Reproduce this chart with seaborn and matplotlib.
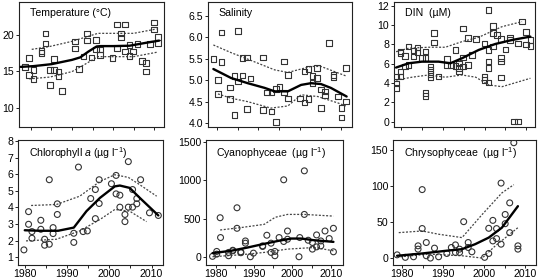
import numpy as np
import pandas as pd
import matplotlib
matplotlib.use("Agg")
import matplotlib.pyplot as plt
import seaborn as sns

# ---------------- data ----------------
# Temperature (°C)
temp_year = [1978.5, 1979.5, 1979.6, 1980.6, 1980.6, 1982.6, 1982.6, 1983.6, 1983.6, 1984.6, 1984.6,
             1985.6, 1985.6, 1986.7, 1986.7, 1987.6, 1990.7, 1990.7, 1991.7, 1992.8, 1993.7, 1993.7,
             1994.8, 1995.9, 1995.9, 1996.8, 1996.8, 1999.9, 2000.9, 2000.9, 2001.9, 2001.9, 2002.9,
             2002.9, 2004.0, 2004.0, 2004.9, 2005.9, 2007.0, 2008.0, 2008.0, 2009.0, 2010.0, 2010.0,
             2011.0, 2011.0]
temp_val = [15.6, 16.8, 14.5, 15.2, 13.95, 17.5, 17.8, 20.2, 18.8, 13.1, 15.2,
            16.7, 15.2, 14.95, 14.3, 12.3, 19.1, 18.1, 15.3, 17.0, 20.2, 19.2,
            16.9, 19.3, 18.0, 18.0, 17.25, 16.8, 21.4, 18.1, 20.2, 19.6, 21.4,
            17.7, 18.6, 17.1, 17.7, 18.7, 16.4, 16.1, 14.95, 18.7, 21.7, 20.7,
            19.7, 18.9]
temp_fit_year = [1977.5, 1980.6, 1985.0, 1990.0, 1992.0, 1994.0, 1996.0, 1997.0, 2000.0, 2004.0, 2008.0, 2011.2]
temp_fit = [15.6, 15.7, 15.97, 16.56, 16.9, 17.7, 18.4, 18.45, 18.45, 18.5, 18.9, 19.2]
temp_up_year = [1980.2, 1984.6, 1990.0, 1996.3, 2005.0, 2010.6]
temp_up = [18.0, 18.4, 19.1, 20.2, 20.2, 20.8]
temp_lo_year = [1979.6, 1984.6, 1990.0, 1993.0, 1996.3, 2005.0, 2010.6]
temp_lo = [13.95, 14.2, 14.95, 15.9, 17.0, 17.0, 17.6]

# Salinity
sal_year = [1979.1, 1980.2, 1980.2, 1981.1, 1981.1, 1983.1, 1983.1, 1984.2, 1984.2, 1985.1, 1985.1,
            1986.1, 1986.1, 1987.2, 1987.2, 1988.1, 1991.1, 1991.1, 1992.1, 1993.1, 1993.1, 1994.2,
            1994.2, 1995.1, 1996.1, 1996.1, 1997.1, 1997.1, 2000.1, 2001.1, 2001.1, 2002.1, 2002.1,
            2003.1, 2003.1, 2004.2, 2004.2, 2005.1, 2005.1, 2006.1, 2006.1, 2007.1, 2008.1, 2008.1,
            2009.2, 2010.1, 2010.1, 2011.1, 2011.1]
sal_val = [5.49, 5.01, 4.68, 6.11, 5.42, 4.83, 4.56, 5.10, 4.19, 6.14, 4.97,
           5.11, 5.51, 5.53, 4.33, 5.04, 5.53, 4.31, 4.71, 4.71, 4.27, 4.80,
           4.02, 4.84, 5.43, 4.71, 5.12, 4.57, 4.57, 5.20, 4.48, 5.26, 4.56,
           5.10, 4.93, 5.28, 5.05, 4.78, 4.35, 4.74, 4.64, 5.86, 5.12, 5.07,
           4.62, 4.35, 4.13, 5.28, 4.50]
sal_fit_year = [1979.1, 1983.4, 1987.4, 1991.5, 1993.9, 1997.1, 2000.3, 2002.7, 2005.1, 2007.5, 2011.3]
sal_fit = [5.26, 5.05, 4.93, 4.82, 4.74, 4.74, 4.89, 4.93, 4.91, 4.82, 4.62]
sal_up_year = [1979.1, 1983.4, 1987.4, 1993.9, 1997.1, 2000.3, 2002.7, 2005.1, 2011.1]
sal_up = [5.82, 5.64, 5.49, 5.24, 5.18, 5.26, 5.32, 5.32, 5.10]
sal_lo_year = [1980.2, 1983.4, 1987.4, 1993.0, 1997.1, 2000.3, 2004.3, 2009.2, 2011.1]
sal_lo = [4.68, 4.58, 4.50, 4.35, 4.40, 4.66, 4.62, 4.47, 4.40]

# DIN (µM)
din_year = [1978.8, 1978.8, 1978.8, 1979.9, 1979.9, 1979.9, 1979.9, 1981.0, 1981.0, 1981.8, 1981.8,
            1983.0, 1983.0, 1983.9, 1983.9, 1985.0, 1985.9, 1985.9, 1985.9, 1985.9, 1987.0, 1987.0,
            1987.0, 1987.0, 1987.9, 1987.9, 1989.0, 1991.0, 1991.0, 1991.9, 1993.0, 1993.0, 1993.9,
            1993.9, 1993.9, 1994.9, 1994.9, 1994.9, 1996.0, 1996.0, 1997.0, 1998.0, 2000.0, 2000.0,
            2000.0, 2001.0, 2001.0, 2001.0, 2001.0, 2001.0, 2002.0, 2002.0, 2002.0, 2003.0, 2004.0,
            2004.0, 2004.0, 2004.0, 2005.0, 2006.1, 2006.1, 2007.0, 2008.0, 2008.0, 2009.0, 2010.0,
            2010.0, 2011.0, 2011.0]
din_val = [4.66, 3.97, 3.46, 4.66, 5.17, 7.08, 7.24, 6.8, 5.7, 7.76, 5.87,
           7.35, 6.73, 7.66, 7.14, 6.56, 7.24, 6.56, 2.94, 2.65, 5.7, 5.35,
           4.94, 4.55, 9.15, 8.17, 4.66, 6.46, 5.87, 5.87, 7.42, 5.76, 6.04,
           5.53, 5.17, 9.66, 6.66, 5.7, 5.87, 8.63, 6.9, 8.53, 8.11, 4.6,
           4.32, 11.55, 7.42, 6.21, 5.53, 4.04, 9.9, 9.15, 7.76, 8.98, 8.53,
           6.56, 6.21, 4.56, 7.48, 8.73, 8.46, 0.0, 0.0, 8.11, 10.35, 9.25,
           8.0, 7.8, 8.46]
din_fit_year = [1978.8, 1981.8, 1985.0, 1989.0, 1991.8, 1994.6, 1998.6, 2002.6, 2006.6, 2011.0]
din_fit = [5.6, 6.04, 6.21, 6.21, 6.04, 6.56, 7.42, 8.04, 8.45, 8.8]
din_up_year = [1978.8, 1981.8, 1986.6, 1990.6, 1994.6, 1998.6, 2004.2, 2009.0]
din_up = [7.24, 7.6, 7.7, 7.7, 8.28, 8.73, 9.83, 10.35]
din_lo_year = [1978.8, 1982.6, 1986.6, 1990.6, 1994.6, 1997.9, 2001.0, 2004.2, 2011.0]
din_lo = [4.3, 4.6, 4.83, 4.6, 4.83, 4.6, 3.8, 3.62, 4.49]

# Chlorophyll a (µg l-1)
chl_year = [1979.8, 1980.9, 1980.9, 1981.7, 1981.7, 1983.8, 1983.8, 1984.7, 1984.7, 1985.8, 1985.8,
            1986.7, 1986.7, 1987.7, 1987.7, 1991.6, 1991.6, 1992.7, 1993.8, 1994.8, 1995.6, 1996.7,
            1996.7, 1997.6, 1997.6, 2000.5, 2001.6, 2001.6, 2002.5, 2002.5, 2003.7, 2003.7, 2004.5,
            2004.5, 2005.5, 2005.5, 2006.5, 2006.5, 2007.4, 2009.5, 2011.6]
chl_val = [1.45, 2.99, 3.75, 2.55, 2.15, 3.23, 2.69, 2.09, 1.73, 1.79, 5.67,
           2.79, 2.43, 3.58, 4.22, 1.9, 2.45, 6.43, 2.55, 2.59, 4.54, 3.33,
           5.08, 4.24, 5.67, 5.43, 4.82, 5.93, 4.74, 4.02, 3.58, 3.15, 6.76,
           4.02, 4.02, 5.08, 4.54, 4.22, 5.67, 3.68, 3.52]
chl_fit_year = [1980.0, 1983.5, 1987.9, 1991.6, 1994.6, 1997.8, 2001.3, 2002.5, 2004.8, 2007.2, 2011.6]
chl_fit = [2.63, 2.6, 2.6, 2.79, 3.78, 4.58, 5.27, 5.32, 5.18, 4.58, 3.52]
chl_up_year = [1981.5, 1987.5, 1993.0, 1997.8, 2001.3, 2004.5, 2007.2, 2011.2]
chl_up = [4.12, 4.18, 4.68, 5.57, 5.97, 5.81, 5.37, 4.68]
chl_lo_year = [1980.3, 1987.5, 1993.0, 1997.8, 2001.3, 2004.8, 2008.8]
chl_lo = [1.99, 2.09, 2.59, 3.28, 3.88, 3.78, 3.15]

# Cyanophyceae (µg l-1)
cya_year = [1979.1, 1980.2, 1980.2, 1981.1, 1981.2, 1983.3, 1983.3, 1984.4, 1984.4, 1985.5, 1985.5,
            1986.5, 1986.5, 1987.7, 1987.7, 1989.0, 1989.8, 1992.2, 1992.2, 1993.3, 1994.4, 1994.4,
            1995.4, 1995.4, 1996.5, 1997.7, 1997.7, 1998.7, 1998.7, 2001.7, 2001.9, 2003.1, 2003.1,
            2004.1, 2005.2, 2005.2, 2006.3, 2006.3, 2007.4, 2007.4, 2008.5, 2009.6, 2010.7, 2010.7]
cya_val = [13, 42, 77, 514, 257, 21, 64, 85, 92, 643, 377,
           72, 60, 213, 184, 8, 55, 149, 141, 287, 184, 64,
           21, 77, 257, 1006, 206, 342, 235, 8, 257, 1122, 557,
           222, 107, 193, 291, 136, 213, 149, 342, 244, 377, 72]
cya_fit_year = [1979.1, 1983.9, 1988.3, 1992.2, 1996.2, 1999.7, 2002.3, 2005.7, 2010.7]
cya_fit = [55, 85, 128, 171, 213, 244, 244, 222, 201]
cya_up_year = [1981.1, 1986.5, 1992.6, 1995.5, 1998.7, 2003.1, 2010.7]
cya_up = [355, 386, 428, 520, 557, 557, 535]
cya_lo_year = [1979.1, 1986.5, 1992.6, 1998.7, 2005.7, 2010.7]
cya_lo = [8, 34, 64, 107, 128, 85]

# Chrysophyceae (µg l-1)
chr_year = [1978.8, 1980.8, 1982.8, 1983.9, 1983.9, 1984.9, 1984.9, 1985.9, 1985.9, 1986.9, 1987.9,
            1988.9, 1990.9, 1992.0, 1993.0, 1993.0, 1994.0, 1994.0, 1995.0, 1996.1, 1996.1, 1997.0,
            2000.1, 2001.1, 2001.1, 2002.1, 2002.1, 2003.0, 2003.0, 2004.1, 2004.1, 2005.1, 2005.1,
            2006.2, 2006.2, 2007.2, 2008.2, 2008.2]
chr_val = [4.5, 1, 1.8, 17, 12.4, 95, 41, 21.6, 3.2, 0, 13.8,
           1.8, 6.4, 14.7, 18.3, 7.8, 12.4, 7.8, 50.5, 21.6, 14.7, 8.7,
           1, 6.4, 41.3, 52.3, 23.8, 40.9, 27, 104, 19.3, 60.5, 47.7,
           76.6, 35.3, 160, 17, 12.4]
chr_fit_year = [1978.8, 1984.9, 1990.5, 1994.6, 1997.8, 2001.1, 2004.3, 2008.2]
chr_fit = [3.2, 6.4, 10, 12.4, 19.3, 28.4, 42.2, 72]
chr_up_year = [1979.2, 1984.9, 1989.0, 1994.6, 1999.5, 2004.3, 2007.2]
chr_up = [35.3, 37.6, 33, 28.4, 60.5, 90.4, 101.8]
chr_lo_year = [1979.6, 1986.5, 1994.6, 1999.5, 2002.7, 2008.2]
chr_lo = [1.8, 5.5, 3.2, 0, 17, 42.2]

titles = ["Temperature (°C)", "Salinity", "DIN  (µM)",
          r"Chlorophyll $\it{a}$ (µg l$^{-1}$)", r"Cyanophyceae  (µg l$^{-1}$)",
          r"Chrysophyceae  (µg l$^{-1}$)"]

# ---------------- style ----------------
sns.set_style("ticks")
plt.rcParams["font.family"] = ["Liberation Sans", "DejaVu Sans"]
plt.rcParams["mathtext.fontset"] = "custom"
plt.rcParams["mathtext.rm"] = "Liberation Sans"
plt.rcParams["mathtext.it"] = "Liberation Sans:italic"
plt.rcParams["mathtext.default"] = "regular"

W, H = 543, 280
fig = plt.figure(figsize=(W / 100, H / 100), dpi=100)

# pixel boxes (left, right, top, bottom)
boxes = [(19, 164, 2, 127), (208, 352, 2, 127), (394, 535, 2, 127),
         (18, 163, 140, 265), (206, 343, 140, 265), (393, 536, 140, 265)]
xlims = [(1977.1, 2012.4), (1977.8, 2012.6), (1978.3, 2012.1),
         (1978.4, 2012.7), (1977.4, 2013.2), (1977.8, 2012.6)]
ylims = [(7.35, 24.5), (3.91, 6.82), (-0.55, 12.38),
         (0.54, 8.06), (-99, 1522), (-9.6, 163.8)]
yticks = [[10, 15, 20], [4.0, 4.5, 5.0, 5.5, 6.0, 6.5], [0, 2, 4, 6, 8, 10, 12],
          [1, 2, 3, 4, 5, 6, 7, 8], [0, 500, 1000, 1500], [0, 50, 100, 150]]

panels = [
    (temp_year, temp_val, temp_fit_year, temp_fit, temp_up_year, temp_up, temp_lo_year, temp_lo, "s"),
    (sal_year, sal_val, sal_fit_year, sal_fit, sal_up_year, sal_up, sal_lo_year, sal_lo, "s"),
    (din_year, din_val, din_fit_year, din_fit, din_up_year, din_up, din_lo_year, din_lo, "s"),
    (chl_year, chl_val, chl_fit_year, chl_fit, chl_up_year, chl_up, chl_lo_year, chl_lo, "o"),
    (cya_year, cya_val, cya_fit_year, cya_fit, cya_up_year, cya_up, cya_lo_year, cya_lo, "o"),
    (chr_year, chr_val, chr_fit_year, chr_fit, chr_up_year, chr_up, chr_lo_year, chr_lo, "o"),
]

for i, (box, p) in enumerate(zip(boxes, panels)):
    L, R, T, B = box
    ax = fig.add_axes([L / W, 1 - B / H, (R - L) / W, (B - T) / H])
    xs, ys, fx, fy, ux, uy, lx, ly, mk = p
    for bx, by in ((ux, uy), (lx, ly)):
        sns.lineplot(x=bx, y=by, ax=ax, color="#444444", lw=0.9,
                     estimator=None, sort=False)
        ax.lines[-1].set_linestyle((0, (1.6, 1.3)))
    sns.scatterplot(x=xs, y=ys, ax=ax, marker=mk, s=16 if mk == "s" else 18,
                    color="#333333", edgecolor="#333333", linewidth=0.8, zorder=3)
    ax.collections[-1].set_facecolor("none")
    sns.lineplot(x=fx, y=fy, ax=ax, color="black", lw=1.7, estimator=None, sort=False, zorder=4)

    ax.set_xlim(*xlims[i])
    ax.set_ylim(*ylims[i])
    ax.set_xticks([1980, 1985, 1990, 1995, 2000, 2005, 2010])
    if i < 3:
        ax.set_xticklabels([])
    else:
        ax.set_xticklabels(["1980", "", "1990", "", "2000", "", "2010"])
    ax.set_yticks(yticks[i])
    if i == 1:
        ax.set_yticklabels([f"{v:.1f}" for v in yticks[i]])
    ax.tick_params(axis="both", labelsize=7.6, length=2.5, width=0.7, color="#222222",
                   pad=1.0, labelcolor="black")
    ax.tick_params(axis="x", pad=0.5)
    for s in ax.spines.values():
        s.set_visible(True)
        s.set_linewidth(0.8)
        s.set_color("#222222")
    ax.set_xlabel("")
    ax.set_ylabel("")
    ax.text(0.075, 0.955, titles[i], transform=ax.transAxes, ha="left", va="top",
            fontsize=7.6, color="black")

fig.savefig("out.png", dpi=100)
